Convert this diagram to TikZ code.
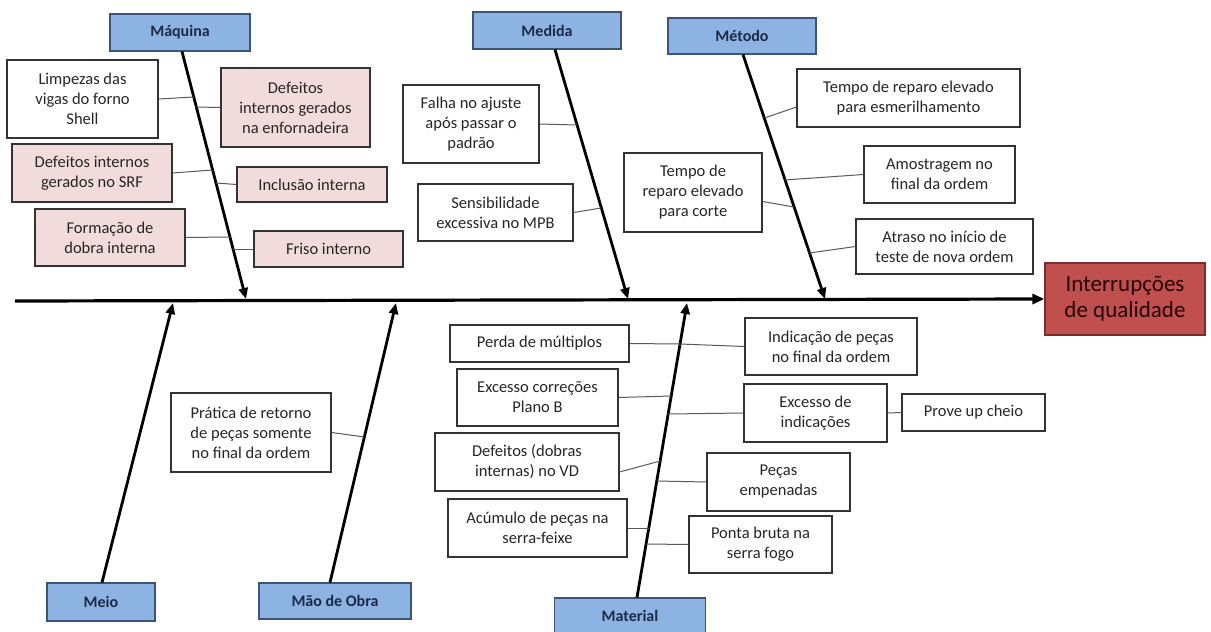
\documentclass[tikz,border=0pt]{standalone}
\usepackage{fontspec}
\setmainfont{Carlito}
\usepackage{xcolor}
\usetikzlibrary{arrows.meta}

\definecolor{catblue}{HTML}{8DB3E2}
\definecolor{catedge}{HTML}{3B5578}
\definecolor{catlabel}{HTML}{1C2A47}
\definecolor{causepink}{HTML}{F2DCDB}
\definecolor{effred}{HTML}{C0504D}
\definecolor{effedge}{HTML}{7A2F2D}

\tikzset{
  sz/.style 2 args={minimum width=#1pt, minimum height=#2pt},
  cat/.style={draw=catedge, line width=1.1pt, fill=catblue, inner sep=0pt,
    text=catlabel, font=\fontsize{16}{19}\selectfont\bfseries},
  cause/.style={draw=black!80, line width=1.1pt, fill=white, inner sep=0pt,
    align=center, text=black!85, font=\fontsize{16.5}{20}\selectfont},
  pink/.style={cause, fill=causepink},
  bone/.style={line width=2.8pt, -{Triangle[length=11pt,width=9pt]}},
  link/.style={line width=1pt, draw=black!65},
}

\begin{document}
\begin{tikzpicture}[x=1pt, y=-1pt]
    \useasboundingbox (0,0) rectangle (1211,632);

    \node[cat, sz={140}{37}] (maq) at (180,32.5) {Máquina};
    \node[cat, sz={148}{37}] (med) at (547,30.5) {Medida};
    \node[cat, sz={148}{36}] (met) at (742,36) {Método};
    \node[cat, sz={108}{38}] (meio) at (101,602) {Meio};
    \node[cat, sz={152}{36}] (mao) at (335,601) {Mão de Obra};
    \node[cat, sz={151}{36}] (mat) at (630,616) {Material};

    \node[draw=effedge, line width=1.2pt, fill=effred, sz={160}{72}, inner sep=0pt,
      align=center, text=black!85!red, font=\fontsize{23}{26}\selectfont]
      (efeito) at (1125,299) {Interrupções\\de qualidade};

    \coordinate (spine) at (15,301);
    \draw[line width=3.2pt, -{Triangle[length=12pt,width=10pt]}] (spine) -- (efeito.west);

    \coordinate (tmaq) at (246,299);
    \coordinate (tmed) at (628,299);
    \coordinate (tmet) at (825,299);
    \coordinate (tmeio) at (173,303);
    \coordinate (tmao) at (396,303);
    \coordinate (tmat) at (687,303);

    \draw[bone] ([xshift=2pt]maq.south) -- (tmaq);
    \draw[bone] ([xshift=8pt]med.south) -- (tmed);
    \draw[bone] ([xshift=1pt]met.south) -- (tmet);
    \draw[bone] ([xshift=1pt]meio.north) -- (tmeio);
    \draw[bone] ([xshift=-5pt]mao.north) -- (tmao);
    \draw[bone] ([xshift=7pt]mat.north) -- (tmat);

    \node[cause, sz={151}{78}] (maq1) at (82.5,99) {Limpezas das\\vigas do forno\\Shell};
    \node[pink, sz={149}{79}] (maq2) at (295.5,107.5) {Defeitos\\internos gerados\\na enfornadeira};
    \node[pink, sz={160}{58}] (maq3) at (92,173) {Defeitos internos\\gerados no SRF};
    \node[pink, sz={150}{35}] (maq4) at (312,184.5) {Inclusão interna};
    \node[pink, sz={150}{57}] (maq5) at (110,237.5) {Formação de\\dobra interna};
    \node[pink, sz={149}{36}] (maq6) at (328.5,249) {Friso interno};

    \coordinate (bm1) at (193.9,97);
    \coordinate (bm2) at (196.5,107);
    \coordinate (bm3) at (212.7,170);
    \coordinate (bm4) at (216.1,183);
    \coordinate (bm5) at (230,237);
    \coordinate (bm6) at (233.1,249);

    \draw[link] (maq1.east) -- (bm1);
    \draw[link] (bm2) -- (maq2.west);
    \draw[link] (maq3.east) -- (bm3);
    \draw[link] (bm4) -- (maq4.west);
    \draw[link] (maq5.east) -- (bm5);
    \draw[link] (bm6) -- (maq6.west);

    \node[cause, sz={136}{78}] (med1) at (471,124) {Falha no ajuste\\após passar o\\padrão};
    \node[cause, sz={155}{57}] (med2) at (495.5,212.5) {Sensibilidade\\excessiva no MPB};

    \coordinate (be1) at (576.9,125);
    \coordinate (be2) at (601.1,208);

    \draw[link] (med1.east) -- (be1);
    \draw[link] (med2.east) -- (be2);

    \node[cause, sz={138}{79}] (met1) at (693,192.5) {Tempo de\\reparo elevado\\para corte};
    \node[cause, sz={223}{58}] (met2) at (908.5,98) {Tempo de reparo elevado\\para esmerilhamento};
    \node[cause, sz={151}{57}] (met3) at (939.5,174.5) {Amostragem no\\final da ordem};
    \node[cause, sz={177}{55}] (met4) at (944.5,246.5) {Atraso no início de\\teste de nova ordem};

    \coordinate (bt1) at (793.9,207);
    \coordinate (bt2) at (764.5,118);
    \coordinate (bt3) at (784.8,180);
    \coordinate (bt4) at (809.3,253);

    \draw[link] ([yshift=-9pt]met1.east) -- (bt1);
    \draw[link] (bt2) -- ([yshift=-9pt]met2.west);
    \draw[link] (bt3) -- (met3.west);
    \draw[link] (bt4) -- (met4.west);

    \node[cause, sz={160}{79}] (mao1) at (251,432.5) {Prática de retorno\\de peças somente\\no final da ordem};
    \coordinate (bo1) at (364.4,437);
    \draw[link] (mao1.east) -- (bo1);

    \node[cause, sz={179}{37}] (mat1) at (539.5,343.5) {Perda de múltiplos};
    \node[cause, sz={172}{57}] (mat2) at (831,346.5) {Indicação de peças\\no final da ordem};
    \node[cause, sz={161}{57}] (mat3) at (537.5,397.5) {Excesso correções\\Plano B};
    \node[cause, sz={143}{58}] (mat4) at (815.5,413) {Excesso de\\indicações};
    \node[cause, sz={143}{37}] (mat5) at (973.5,412.5) {Prove up cheio};
    \node[cause, sz={184}{58}] (mat6) at (527,462) {Defeitos (dobras\\internas) no VD};
    \node[cause, sz={143}{58}] (mat7) at (778.5,482) {Peças\\empenadas};
    \node[cause, sz={179}{58}] (mat8) at (537.5,528) {Acúmulo de peças na\\serra-feixe};
    \node[cause, sz={143}{57}] (mat9) at (760.5,544.5) {Ponta bruta na\\serra fogo};

    \coordinate (ba1) at (680,344);
    \coordinate (ba3) at (671.2,396);
    \coordinate (ba4) at (668.2,414);
    \coordinate (ba6) at (660.2,461);
    \coordinate (ba7) at (656.8,481);
    \coordinate (ba8) at (648.9,528);
    \coordinate (ba9) at (646.2,544);

    \draw[link] (mat1.east) -- (ba1);
    \draw[link] (ba1) -- (mat2.west);
    \draw[link] (mat3.east) -- (ba3);
    \draw[link] (ba4) -- (mat4.west);
    \draw[link] (mat4.east) -- (mat5.west);
    \draw[link] ([yshift=-10pt]mat6.east) -- (ba6);
    \draw[link] (ba7) -- (mat7.west);
    \draw[link] (mat8.east) -- (ba8);
    \draw[link] (ba9) -- (mat9.west);
\end{tikzpicture}
\end{document}
